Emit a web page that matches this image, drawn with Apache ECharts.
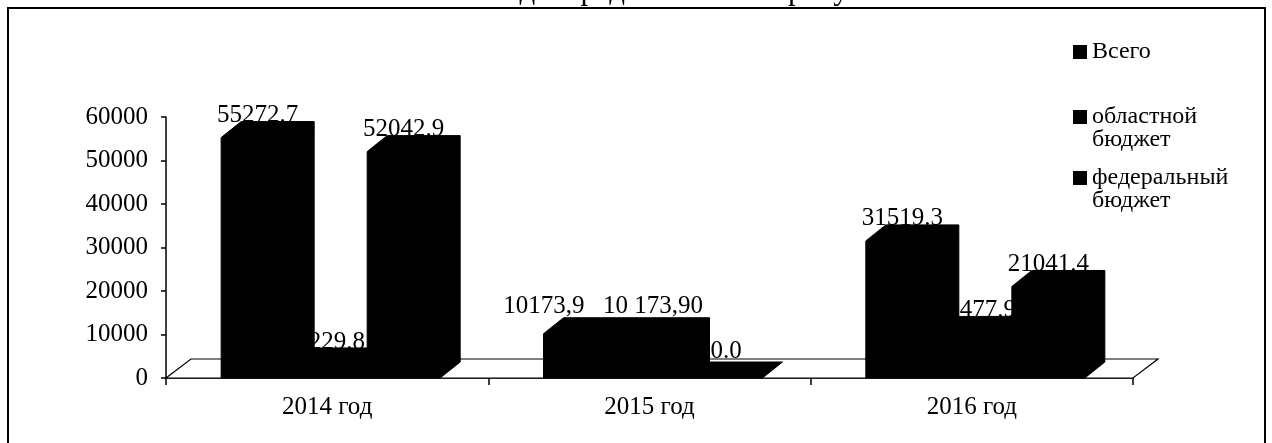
<!DOCTYPE html>
<html><head><meta charset="utf-8">
<script src="https://cdn.jsdelivr.net/npm/echarts@6/dist/echarts.min.js"></script>
<style>html,body{margin:0;padding:0;background:#fff}#c{width:1272px;height:443px}</style>
</head><body><div id="c"></div>
<script>
// ---- data ----
const categories = ['2014 год', '2015 год', '2016 год'];
const seriesNames = ['Всего', 'областной\nбюджет', 'федеральный\nбюджет'];
const totalValues = [55272.7, 10173.9, 31519.3];
const regionalValues = [3229.8, 10173.9, 10477.9];
const federalValues = [52042.9, 0.0, 21041.4];
const totalLabels = ['55272.7', '10173,9', '31519.3'];
const regionalLabels = ['3229.8', '10 173,90', '10477.9'];
const federalLabels = ['52042.9', '0.0', '21041.4'];
const yMin = 0, yMax = 60000, yStep = 10000;
const headerText = 'годы представлено на рисунке 56.';

// ---- styling helpers ----
const FONT = '"Liberation Serif", "Times New Roman", serif';
const labelShift = [
  [[0, 0], [-36, -5], [0, 0]],
  [[0, 0], [0, -5], [0, 0]],
  [[0, 0], [0, -5], [0, 0]]
];
const DX = 20, DY = 16;

function makeBarRender(k, labels) {
  return function (params, api) {
    const i = api.value(0);
    const v = api.value(1);
    const top = api.coord([i, v]);
    const base = api.coord([i, 0]);
    const catW = api.size([1, 0])[0];
    const bw = catW * 0.2265;
    const cx = top[0] + 3.5;
    const x0 = cx - 1.5 * bw + k * bw;
    const x1 = x0 + bw;
    const y0 = top[1], yb = base[1];
    const poly = [[x0, yb], [x0, y0], [x0 + DX, y0 - DY], [x1 + DX, y0 - DY], [x1 + DX, yb - DY], [x1, yb]];
    const sh = labelShift[k][i];
    return {
      type: 'group',
      children: [
        { type: 'polygon', shape: { points: poly }, style: { fill: '#000', stroke: '#000', lineWidth: 1 } },
        { type: 'text', z2: 10, style: { text: labels[i], x: (x0 + x1) / 2 + sh[0], y: y0 - 22 + sh[1],
          align: 'center', verticalAlign: 'middle', font: '25px ' + FONT, fill: '#000' } }
      ]
    };
  };
}

function floorRender(params, api) {
  const cs = params.coordSys;
  const fx = 25, fy = 19;
  const yb = cs.y + cs.height;
  return {
    type: 'polygon',
    shape: { points: [[cs.x, yb], [cs.x + cs.width, yb], [cs.x + cs.width + fx, yb - fy], [cs.x + fx, yb - fy]] },
    style: { fill: '#fff', stroke: '#000', lineWidth: 1.2 }
  };
}

const valueSets = [totalValues, regionalValues, federalValues];
const labelSets = [totalLabels, regionalLabels, federalLabels];

const legendCommon = {
  orient: 'vertical', left: 1073, itemWidth: 14, itemHeight: 14, icon: 'rect',
  selectedMode: false, padding: 0
};
const legendText = { fontFamily: FONT, fontSize: 24, lineHeight: 23, color: '#000' };
// leading blank line keeps the marker level with the first line of a wrapped name
const firstLineFormatter = name => ' \n' + name;

const chart = echarts.init(document.getElementById('c'));
chart.setOption({
  animation: false,
  color: ['#000', '#000', '#000'],
  grid: { left: 166, right: 139, top: 117, bottom: 65 },
  xAxis: {
    type: 'category', data: categories, boundaryGap: true,
    axisLine: { lineStyle: { color: '#000', width: 1.5 } },
    axisTick: { show: true, length: 7, lineStyle: { color: '#000', width: 1.5 } },
    axisLabel: { color: '#000', fontFamily: FONT, fontSize: 25, margin: 17 }
  },
  yAxis: {
    type: 'value', min: yMin, max: yMax, interval: yStep,
    axisLine: { show: true, lineStyle: { color: '#000', width: 1.5 } },
    axisTick: { show: true, length: 5, lineStyle: { color: '#000', width: 1.5 } },
    splitLine: { show: false },
    axisLabel: { color: '#000', fontFamily: FONT, fontSize: 25, margin: 18, formatter: v => String(v) }
  },
  legend: [
    Object.assign({}, legendCommon, { data: [seriesNames[0]], top: 40, textStyle: legendText }),
    Object.assign({}, legendCommon, { data: [seriesNames[1]], top: 82, textStyle: legendText, formatter: firstLineFormatter }),
    Object.assign({}, legendCommon, { data: [seriesNames[2]], top: 143, textStyle: legendText, formatter: firstLineFormatter })
  ],
  graphic: [
    { type: 'rect', shape: { x: 8, y: 8, width: 1257, height: 470 }, style: { fill: 'none', stroke: '#000', lineWidth: 2 }, silent: true },
    { type: 'text', style: { text: headerText, x: 940, y: -9, align: 'right', verticalAlign: 'middle', font: '31px ' + FONT, fill: '#000' }, silent: true }
  ],
  series: [
    { type: 'custom', name: 'floor', z: 1, renderItem: floorRender, data: [[0, 0]], encode: { x: 0, y: 1 }, silent: true }
  ].concat(valueSets.map((vals, k) => ({
    type: 'custom', name: seriesNames[k], z: 2 + k,
    renderItem: makeBarRender(k, labelSets[k]),
    data: vals.map((v, i) => [i, v]),
    encode: { x: 0, y: 1 },
    itemStyle: { color: '#000' }
  })))
});
</script></body></html>
